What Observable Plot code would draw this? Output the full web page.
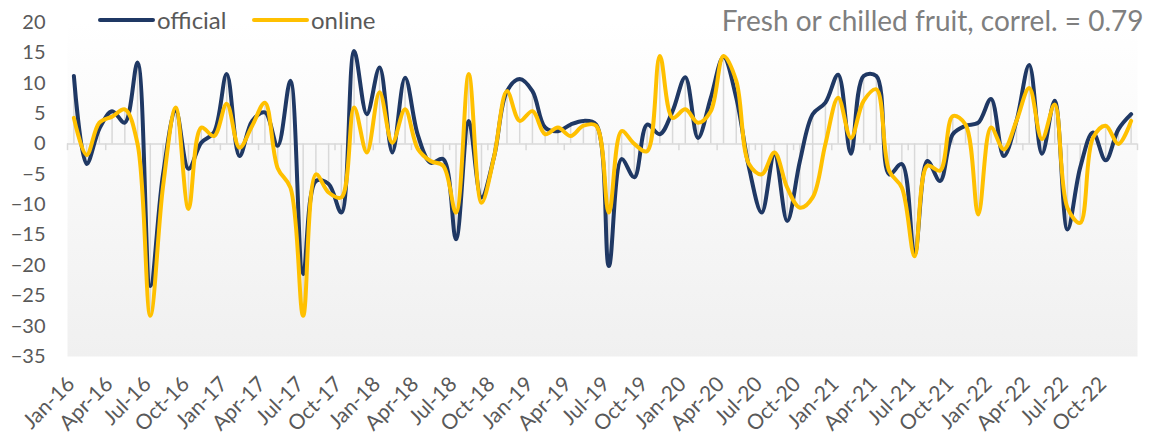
<!DOCTYPE html>
<html><head><meta charset="utf-8">
<script src="https://cdn.jsdelivr.net/npm/d3@7"></script>
<script src="https://cdn.jsdelivr.net/npm/@observablehq/plot@0.6"></script>
<style>body{margin:0;background:#fff;} #chart{position:relative;width:1153px;height:447px;}</style>
</head><body><div id="chart"></div>
<script>
const years = ["16","17","18","19","20","21","22"];
const monthNames = ["Jan","Feb","Mar","Apr","May","Jun","Jul","Aug","Sep","Oct","Nov","Dec"];
const months = years.flatMap(y => monthNames.map(m => m + "-" + y));

const official = [11.2, -3.3, 2.5, 5.4, 3.5, 13.4, -23.4, -5.0, 5.5, -4.1,
  0.2, 1.9, 11.5, -2.0, 3.8, 5.2, -0.3, 10.4, -21.4, -6.1,
  -6.6, -11.3, 15.3, 4.9, 12.6, -1.4, 10.9, 1.5, -3.1, -2.5,
  -15.7, 3.8, -8.8, -2.0, 8.7, 10.7, 8.7, 2.7, 2.1, 3.2,
  3.8, 3.2, -20.1, -2.5, -5.5, 3.2, 1.6, 5.4, 11.0, 1.0,
  7.6, 14.3, 7.6, -3.9, -11.3, -1.7, -12.7, -2.8, 4.9, 6.8,
  11.4, -1.6, 11.2, 11.2, -5.0, -3.3, -18.2, -2.8, -6.1, 1.6,
  3.0, 3.5, 7.4, -2.0, 3.8, 13.0, -1.6, 7.1, -14.1, -3.9,
  1.9, -2.7, 2.4, 4.9];
const online = [4.3, -1.8, 3.5, 4.5, 5.7, 0.0, -28.3, -7.0, 6.0, -10.7,
  2.7, 1.3, 6.6, -0.6, 3.0, 6.8, -4.0, -7.2, -28.3, -5.0,
  -8.0, -8.8, 6.0, -1.4, 8.5, 0.2, 5.7, -0.8, -2.8, -3.6,
  -11.3, 11.5, -9.7, -2.0, 8.7, 3.8, 5.4, 1.6, 2.7, 1.3,
  3.0, 3.0, -11.3, 2.1, 0.0, -1.2, 14.5, 4.3, 5.7, 3.5,
  5.4, 14.5, 10.4, -3.3, -5.0, -1.4, -7.2, -10.5, -8.8, 0.0,
  7.6, 1.0, 7.1, 9.0, -4.4, -7.2, -18.5, -3.6, -4.4, 4.6,
  3.2, -11.6, 2.7, -0.9, 3.8, 9.2, 0.8, 6.5, -10.5, -13.0,
  1.0, 3.0, 0.0, 3.8];
const tickLabels = ["Jan-16","Apr-16","Jul-16","Oct-16","Jan-17","Apr-17","Jul-17","Oct-17",
  "Jan-18","Apr-18","Jul-18","Oct-18","Jan-19","Apr-19","Jul-19","Oct-19",
  "Jan-20","Apr-20","Jul-20","Oct-20","Jan-21","Apr-21","Jul-21","Oct-21",
  "Jan-22","Apr-22","Jul-22","Oct-22"];
const yTicks = [-35, -30, -25, -20, -15, -10, -5, 0, 5, 10, 15, 20];
const title = "Fresh or chilled fruit, correl. = 0.79";
const seriesNames = ["official", "online"];
const colors = ["#1f3864", "#ffc000"];

const data = months.map((m, i) => ({i, m, official: official[i], online: online[i]}));
const tickIdx = tickLabels.map(l => months.indexOf(l));
const boundaries = tickIdx.map(i => i - 0.5).concat([months.length - 0.5]);

const chart = Plot.plot({
  width: 1153, height: 447,
  marginLeft: 67, marginRight: 16, marginTop: 22, marginBottom: 91,
  x: {type: "linear", domain: [-0.5, months.length - 0.5], axis: null},
  y: {domain: [-35, 20], axis: null},
  style: {fontFamily: "Lato, sans-serif", color: "#595959", background: "transparent"},
  marks: [
    Plot.frame({fill: "url(#plotbg)", stroke: "none"}),
    Plot.ruleX(data, {x: "i", y1: d => Math.min(0, d.official, d.online), y2: d => Math.max(0, d.official, d.online), stroke: "#d9d9d9", strokeWidth: 1.5}),
    Plot.ruleY([0], {stroke: "#d9d9d9", strokeWidth: 1.5}),
    Plot.ruleX(boundaries, {x: d => d, y1: 0, y2: -1.1, stroke: "#d9d9d9", strokeWidth: 1.5}),
    Plot.line(data, {x: "i", y: "official", stroke: colors[0], strokeWidth: 4, curve: "catmull-rom"}),
    Plot.line(data, {x: "i", y: "online", stroke: colors[1], strokeWidth: 4, curve: "catmull-rom"}),
    Plot.axisY({ticks: yTicks, tickSize: 0, tickPadding: 22, fontSize: 20, fill: "#595959"}),
    Plot.text(tickIdx, {x: d => d, text: d => months[d], frameAnchor: "bottom", rotate: -45, textAnchor: "end", dx: 2, dy: 29, fontSize: 21, fill: "#595959"}),
    Plot.text([title], {text: d => d, frameAnchor: "top-right", lineAnchor: "middle", dx: 6, dy: 0, textAnchor: "end", fontSize: 28, fill: "#7f7f7f", style: {letterSpacing: "1.2px"}})
  ]
});

const svg = d3.select(chart);
const defs = svg.insert("defs", ":first-child");
const grad = defs.append("linearGradient").attr("id", "plotbg").attr("x1", 0).attr("y1", 0).attr("x2", 0).attr("y2", 1);
grad.append("stop").attr("offset", "0%").attr("stop-color", "#ffffff");
grad.append("stop").attr("offset", "100%").attr("stop-color", "#f0f0f0");

const leg = svg.append("g").attr("font-family", "Lato, sans-serif").attr("font-size", 24).attr("fill", "#595959").attr("text-anchor", "start");
const legX = [100, 254];
seriesNames.forEach((name, k) => {
  leg.append("line").attr("x1", legX[k]).attr("x2", legX[k] + 53).attr("y1", 20).attr("y2", 20)
    .attr("stroke", colors[k]).attr("stroke-width", 4).attr("stroke-linecap", "round");
  leg.append("text").attr("x", legX[k] + 57).attr("y", 20).attr("dy", "0.38em").text(name);
});

document.getElementById("chart").appendChild(chart);
</script>
</body></html>
